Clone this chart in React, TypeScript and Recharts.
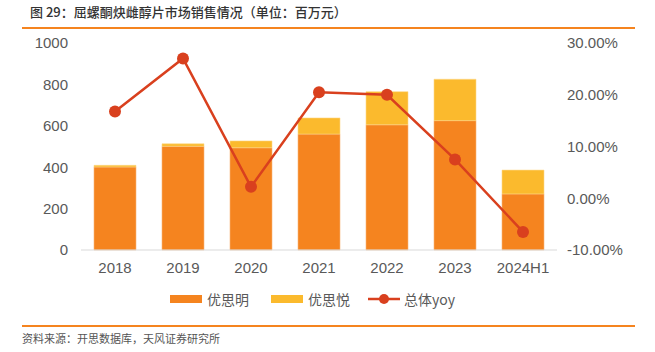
import { ComposedChart, Bar, Line, XAxis, YAxis } from 'recharts';

const years = ['2018', '2019', '2020', '2021', '2022', '2023', '2024H1'];
const yousiming = [401, 501, 494, 560, 605, 625, 271];
const yousiyue = [8, 12, 33, 78, 160, 200, 115];
const yoy = [0.1675, 0.27, 0.022, 0.205, 0.2, 0.075, -0.065];
const leftTicks = [0, 200, 400, 600, 800, 1000];
const rightTicks = [-0.1, 0, 0.1, 0.2, 0.3];

const ORANGE = '#F5841F';
const YELLOW = '#FBBA2D';
const RED = '#D9401E';
const GREY = '#595959';

const chartData = years.map((name, i) => ({
  name,
  a: yousiming[i],
  b: yousiyue[i],
  yoy: yoy[i],
}));

const tickFont = { fontSize: 15, fill: GREY, fontFamily: 'Liberation Sans, Arial, sans-serif' };
const cjk = '"Noto Sans CJK SC", sans-serif';

export default function App() {
  return (
    <div style={{ position: 'absolute', left: 0, top: 0, width: 655, height: 352, background: '#fff', fontFamily: cjk }}>
      <div style={{ position: 'absolute', left: 30, top: 2, fontSize: 13, color: '#333', whiteSpace: 'nowrap', fontWeight: 500 }}>
        图 29：屈螺酮炔雌醇片市场销售情况（单位：百万元）
      </div>
      <div style={{ position: 'absolute', left: 22, top: 27, width: 613, height: 2, background: '#F5841F' }} />
      <div style={{ position: 'absolute', left: 22, top: 325, width: 613, height: 2, background: '#F5841F' }} />
      <div style={{ position: 'absolute', left: 22, top: 330, fontSize: 11, color: '#555', whiteSpace: 'nowrap' }}>
        资料来源：开思数据库，天风证券研究所
      </div>

      <div style={{ position: 'absolute', left: 0, top: 0 }}>
        <ComposedChart width={655} height={352} data={chartData} margin={{ top: 43, right: 0, bottom: 72, left: 0 }} barSize={42}>
          <XAxis dataKey="name" axisLine={{ stroke: '#D9D9D9', strokeWidth: 1 }} tickLine={false} tickSize={0} tickMargin={12} tick={tickFont} height={30} />
          <YAxis yAxisId="l" domain={[0, 1000]} ticks={leftTicks} axisLine={false} tickLine={false} tickSize={0} tickMargin={13} width={81} tick={tickFont} />
          <YAxis yAxisId="r" orientation="right" domain={[-0.1, 0.3]} ticks={rightTicks} axisLine={false} tickLine={false} tickSize={0} tickMargin={10} width={98} tick={tickFont}
            tickFormatter={(v: number) => (v * 100).toFixed(2) + '%'} />
          <Bar yAxisId="l" dataKey="a" stackId="s" fill={ORANGE} stroke="#F9B67A" strokeWidth={0.6} isAnimationActive={false} />
          <Bar yAxisId="l" dataKey="b" stackId="s" fill={YELLOW} stroke="#FDD98A" strokeWidth={0.6} isAnimationActive={false} />
          <Line yAxisId="r" dataKey="yoy" stroke={RED} strokeWidth={2.5} dot={{ r: 6, fill: RED, stroke: RED, strokeWidth: 0 }} isAnimationActive={false} />
        </ComposedChart>
      </div>

      <div style={{ position: 'absolute', left: 170, top: 289, display: 'flex', alignItems: 'center', fontSize: 14, color: GREY, whiteSpace: 'nowrap' }}>
        <span style={{ display: 'inline-block', width: 32, height: 8, background: ORANGE, marginRight: 5 }} />
        <span style={{ marginRight: 22 }}>优思明</span>
        <span style={{ display: 'inline-block', width: 32, height: 8, background: YELLOW, marginRight: 5 }} />
        <span style={{ marginRight: 18 }}>优思悦</span>
        <svg width={32} height={14} style={{ marginRight: 4 }}>
          <line x1={0} y1={7} x2={32} y2={7} stroke={RED} strokeWidth={2.5} />
          <circle cx={16} cy={7} r={5} fill={RED} />
        </svg>
        <span>总体yoy</span>
      </div>
    </div>
  );
}
